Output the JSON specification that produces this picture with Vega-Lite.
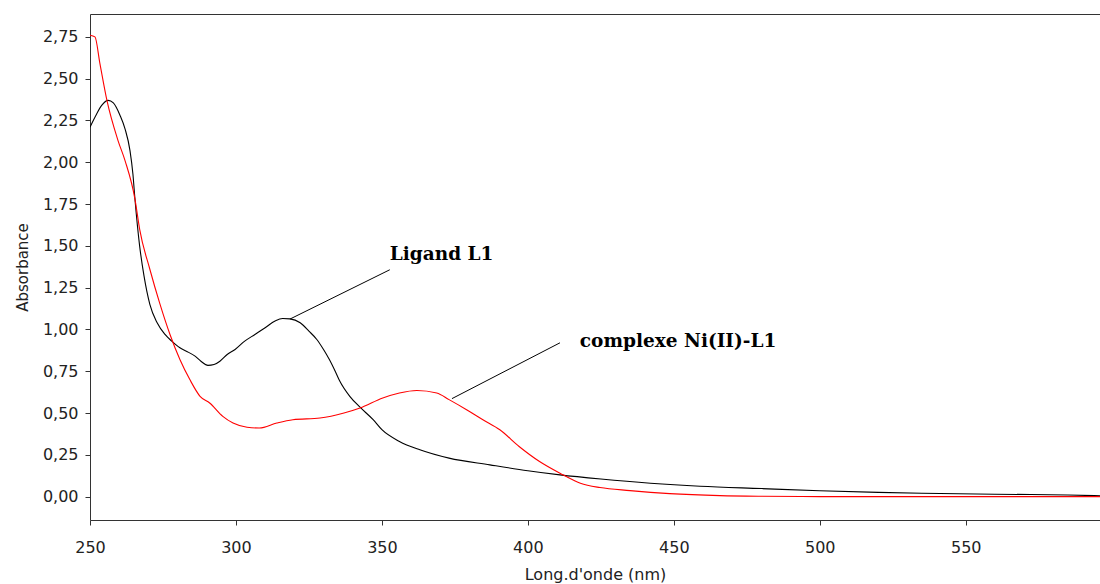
{
  "$schema": "https://vega.github.io/schema/vega-lite/v6.json",
  "width": 1010,
  "height": 506,
  "autosize": {"type": "none"},
  "padding": {"left": 90, "top": 14, "right": 0, "bottom": 64},
  "background": "white",
  "config": {
    "view": {"stroke": null},
    "axis": {"grid": false, "domainColor": "#333333", "tickColor": "#333333", "labelColor": "#222222", "titleColor": "#222222", "labelFont": "DejaVu Sans", "titleFont": "DejaVu Sans", "titleFontWeight": "normal"}
  },
  "datasets": {
    "spectra": [
      {"wl": 250, "abs": 2.21, "serie": "Ligand L1"},
      {"wl": 252, "abs": 2.28, "serie": "Ligand L1"},
      {"wl": 254, "abs": 2.34, "serie": "Ligand L1"},
      {"wl": 256.2, "abs": 2.37, "serie": "Ligand L1"},
      {"wl": 258, "abs": 2.355, "serie": "Ligand L1"},
      {"wl": 260.3, "abs": 2.28, "serie": "Ligand L1"},
      {"wl": 262, "abs": 2.2, "serie": "Ligand L1"},
      {"wl": 263.7, "abs": 2.07, "serie": "Ligand L1"},
      {"wl": 264.7, "abs": 1.93, "serie": "Ligand L1"},
      {"wl": 265.4, "abs": 1.78, "serie": "Ligand L1"},
      {"wl": 267, "abs": 1.5, "serie": "Ligand L1"},
      {"wl": 268.5, "abs": 1.32, "serie": "Ligand L1"},
      {"wl": 270.5, "abs": 1.15, "serie": "Ligand L1"},
      {"wl": 273, "abs": 1.04, "serie": "Ligand L1"},
      {"wl": 275.7, "abs": 0.97, "serie": "Ligand L1"},
      {"wl": 278, "abs": 0.93, "serie": "Ligand L1"},
      {"wl": 280.8, "abs": 0.89, "serie": "Ligand L1"},
      {"wl": 283, "abs": 0.87, "serie": "Ligand L1"},
      {"wl": 286, "abs": 0.84, "serie": "Ligand L1"},
      {"wl": 288, "abs": 0.81, "serie": "Ligand L1"},
      {"wl": 290.4, "abs": 0.785, "serie": "Ligand L1"},
      {"wl": 292.5, "abs": 0.79, "serie": "Ligand L1"},
      {"wl": 294.5, "abs": 0.81, "serie": "Ligand L1"},
      {"wl": 297, "abs": 0.85, "serie": "Ligand L1"},
      {"wl": 299.7, "abs": 0.88, "serie": "Ligand L1"},
      {"wl": 303, "abs": 0.93, "serie": "Ligand L1"},
      {"wl": 306.5, "abs": 0.97, "serie": "Ligand L1"},
      {"wl": 310, "abs": 1.01, "serie": "Ligand L1"},
      {"wl": 313.4, "abs": 1.05, "serie": "Ligand L1"},
      {"wl": 316, "abs": 1.065, "serie": "Ligand L1"},
      {"wl": 318.5, "abs": 1.063, "serie": "Ligand L1"},
      {"wl": 322, "abs": 1.04, "serie": "Ligand L1"},
      {"wl": 325, "abs": 0.99, "serie": "Ligand L1"},
      {"wl": 327.7, "abs": 0.94, "serie": "Ligand L1"},
      {"wl": 330, "abs": 0.88, "serie": "Ligand L1"},
      {"wl": 332, "abs": 0.82, "serie": "Ligand L1"},
      {"wl": 334, "abs": 0.75, "serie": "Ligand L1"},
      {"wl": 335.6, "abs": 0.69, "serie": "Ligand L1"},
      {"wl": 339, "abs": 0.6, "serie": "Ligand L1"},
      {"wl": 342.5, "abs": 0.535, "serie": "Ligand L1"},
      {"wl": 347, "abs": 0.46, "serie": "Ligand L1"},
      {"wl": 350, "abs": 0.4, "serie": "Ligand L1"},
      {"wl": 356, "abs": 0.33, "serie": "Ligand L1"},
      {"wl": 363, "abs": 0.28, "serie": "Ligand L1"},
      {"wl": 373, "abs": 0.23, "serie": "Ligand L1"},
      {"wl": 387, "abs": 0.19, "serie": "Ligand L1"},
      {"wl": 400, "abs": 0.155, "serie": "Ligand L1"},
      {"wl": 411, "abs": 0.13, "serie": "Ligand L1"},
      {"wl": 425, "abs": 0.105, "serie": "Ligand L1"},
      {"wl": 442, "abs": 0.08, "serie": "Ligand L1"},
      {"wl": 459, "abs": 0.062, "serie": "Ligand L1"},
      {"wl": 480, "abs": 0.048, "serie": "Ligand L1"},
      {"wl": 500, "abs": 0.035, "serie": "Ligand L1"},
      {"wl": 520, "abs": 0.025, "serie": "Ligand L1"},
      {"wl": 535, "abs": 0.02, "serie": "Ligand L1"},
      {"wl": 560, "abs": 0.014, "serie": "Ligand L1"},
      {"wl": 585, "abs": 0.01, "serie": "Ligand L1"},
      {"wl": 596, "abs": 0.005, "serie": "Ligand L1"},
      {"wl": 250, "abs": 2.76, "serie": "complexe Ni(II)-L1"},
      {"wl": 251.7, "abs": 2.75, "serie": "complexe Ni(II)-L1"},
      {"wl": 253.4, "abs": 2.59, "serie": "complexe Ni(II)-L1"},
      {"wl": 255.8, "abs": 2.37, "serie": "complexe Ni(II)-L1"},
      {"wl": 259.6, "abs": 2.13, "serie": "complexe Ni(II)-L1"},
      {"wl": 262, "abs": 2.01, "serie": "complexe Ni(II)-L1"},
      {"wl": 265.4, "abs": 1.78, "serie": "complexe Ni(II)-L1"},
      {"wl": 267, "abs": 1.6, "serie": "complexe Ni(II)-L1"},
      {"wl": 270.5, "abs": 1.36, "serie": "complexe Ni(II)-L1"},
      {"wl": 274, "abs": 1.15, "serie": "complexe Ni(II)-L1"},
      {"wl": 277.4, "abs": 0.97, "serie": "complexe Ni(II)-L1"},
      {"wl": 280.8, "abs": 0.82, "serie": "complexe Ni(II)-L1"},
      {"wl": 284.2, "abs": 0.7, "serie": "complexe Ni(II)-L1"},
      {"wl": 287.7, "abs": 0.6, "serie": "complexe Ni(II)-L1"},
      {"wl": 291, "abs": 0.56, "serie": "complexe Ni(II)-L1"},
      {"wl": 295.5, "abs": 0.48, "serie": "complexe Ni(II)-L1"},
      {"wl": 299, "abs": 0.44, "serie": "complexe Ni(II)-L1"},
      {"wl": 303.8, "abs": 0.415, "serie": "complexe Ni(II)-L1"},
      {"wl": 308, "abs": 0.41, "serie": "complexe Ni(II)-L1"},
      {"wl": 314, "abs": 0.44, "serie": "complexe Ni(II)-L1"},
      {"wl": 319.5, "abs": 0.46, "serie": "complexe Ni(II)-L1"},
      {"wl": 328.8, "abs": 0.47, "serie": "complexe Ni(II)-L1"},
      {"wl": 337, "abs": 0.5, "serie": "complexe Ni(II)-L1"},
      {"wl": 342.5, "abs": 0.53, "serie": "complexe Ni(II)-L1"},
      {"wl": 350.3, "abs": 0.59, "serie": "complexe Ni(II)-L1"},
      {"wl": 356, "abs": 0.62, "serie": "complexe Ni(II)-L1"},
      {"wl": 362, "abs": 0.635, "serie": "complexe Ni(II)-L1"},
      {"wl": 368.8, "abs": 0.62, "serie": "complexe Ni(II)-L1"},
      {"wl": 373, "abs": 0.58, "serie": "complexe Ni(II)-L1"},
      {"wl": 379, "abs": 0.52, "serie": "complexe Ni(II)-L1"},
      {"wl": 384.6, "abs": 0.46, "serie": "complexe Ni(II)-L1"},
      {"wl": 390.4, "abs": 0.4, "serie": "complexe Ni(II)-L1"},
      {"wl": 397, "abs": 0.3, "serie": "complexe Ni(II)-L1"},
      {"wl": 404, "abs": 0.21, "serie": "complexe Ni(II)-L1"},
      {"wl": 411, "abs": 0.14, "serie": "complexe Ni(II)-L1"},
      {"wl": 418, "abs": 0.08, "serie": "complexe Ni(II)-L1"},
      {"wl": 424.7, "abs": 0.054, "serie": "complexe Ni(II)-L1"},
      {"wl": 435, "abs": 0.036, "serie": "complexe Ni(II)-L1"},
      {"wl": 448.6, "abs": 0.018, "serie": "complexe Ni(II)-L1"},
      {"wl": 465.8, "abs": 0.006, "serie": "complexe Ni(II)-L1"},
      {"wl": 480, "abs": 0.002, "serie": "complexe Ni(II)-L1"},
      {"wl": 500, "abs": 0.0, "serie": "complexe Ni(II)-L1"},
      {"wl": 596, "abs": 0.0, "serie": "complexe Ni(II)-L1"}
    ],
    "notes": [
      {"label": "Ligand L1", "x1": 318.5, "y1": 1.062, "x2": 352.7, "y2": 1.357, "tx": 352.7, "ty": 1.413},
      {"label": "complexe Ni(II)-L1", "x1": 374, "y1": 0.586, "x2": 411, "y2": 0.92, "tx": 417.8, "ty": 0.897}
    ]
  },
  "layer": [
    {
      "data": {"name": "spectra"},
      "mark": {"type": "line", "strokeWidth": 1.1, "interpolate": "monotone", "clip": true},
      "encoding": {
        "x": {"field": "wl", "type": "quantitative", "scale": {"domain": [250, 596], "nice": false, "zero": false},
          "axis": {"orient": "bottom", "values": [250, 300, 350, 400, 450, 500, 550], "title": "Long.d'onde (nm)", "labelFontSize": 16, "titleFontSize": 16, "tickSize": 5, "labelPadding": 14, "titlePadding": 11, "labelFlush": false}},
        "y": {"field": "abs", "type": "quantitative", "scale": {"domain": [-0.14, 2.887], "nice": false, "zero": false},
          "axis": {"values": [0, 0.25, 0.5, 0.75, 1, 1.25, 1.5, 1.75, 2, 2.25, 2.5, 2.75], "labelExpr": "replace(format(datum.value, '.2f'), '.', ',')", "title": "Absorbance", "labelFontSize": 16, "titleFontSize": 15, "tickSize": 5, "labelPadding": 7, "titlePadding": 12}},
        "color": {"field": "serie", "type": "nominal", "scale": {"domain": ["Ligand L1", "complexe Ni(II)-L1"], "range": ["#000000", "#ff0000"]}, "legend": null}
      }
    },
    {
      "data": {"name": "notes"},
      "mark": {"type": "rule", "color": "#000000", "strokeWidth": 1},
      "encoding": {
        "x": {"field": "x1", "type": "quantitative", "axis": {"orient": "top", "labels": false, "ticks": false, "title": null}},
        "y": {"field": "y1", "type": "quantitative"},
        "x2": {"field": "x2"},
        "y2": {"field": "y2"}
      }
    },
    {
      "data": {"name": "notes"},
      "mark": {"type": "text", "align": "left", "baseline": "alphabetic", "font": "DejaVu Serif", "fontWeight": "bold", "fontSize": 18.5, "color": "#000000"},
      "encoding": {
        "x": {"field": "tx", "type": "quantitative", "axis": null},
        "y": {"field": "ty", "type": "quantitative"},
        "text": {"field": "label"}
      }
    }
  ],
  "resolve": {"axis": {"x": "independent"}}
}
